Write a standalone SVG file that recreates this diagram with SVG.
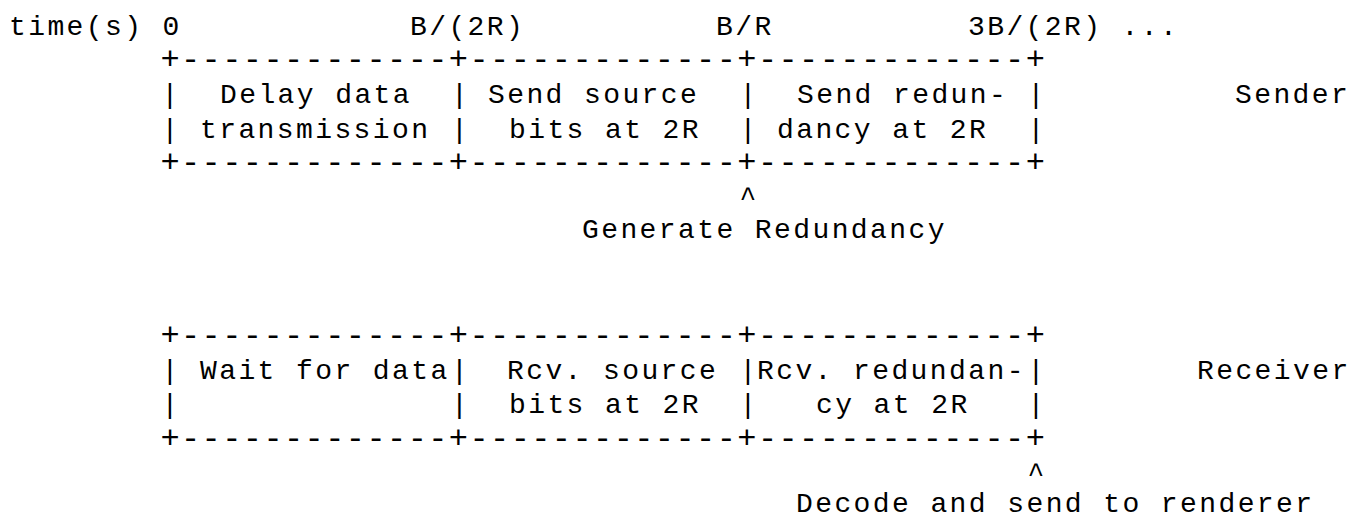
<svg xmlns="http://www.w3.org/2000/svg" width="1353" height="521" viewBox="0 0 1353 521">
<style>
text{font-family:"Liberation Mono","DejaVu Sans Mono",monospace;font-size:28px;letter-spacing:2.4px;fill:#000;white-space:pre}
.b{font-size:32px;letter-spacing:1.4px}
</style>
<rect width="1353" height="521" fill="#fff"/>
<g id="time-axis">
<text x="9" y="35">time(s) 0</text>
<text x="410" y="35">B/(2R)</text>
<text x="716" y="35">B/R</text>
<text x="968" y="35">3B/(2R) ...</text>
</g>
<g id="sender">
<text class="b" x="160.4" y="69">+-------------+-------------+-------------+</text>
<text x="161.6" y="103">|</text><text x="451.1" y="103">|</text><text x="739.6" y="103">|</text><text x="1027.6" y="103">|</text>
<text x="161.6" y="138">|</text><text x="451.1" y="138">|</text><text x="739.6" y="138">|</text><text x="1027.6" y="138">|</text>
<text class="b" x="160.4" y="172">+-------------+-------------+-------------+</text>
<text x="220" y="103">Delay data</text>
<text x="200" y="138">transmission</text>
<text x="488" y="103">Send source</text>
<text x="509" y="138">bits at 2R</text>
<text x="797" y="103">Send redun-</text>
<text x="777" y="138">dancy at 2R</text>
<text x="1235" y="103">Sender</text>
</g>
<g id="generate">
<text x="582" y="238">Generate Redundancy</text>
</g>
<g id="receiver">
<text class="b" x="160.4" y="344.6">+-------------+-------------+-------------+</text>
<text x="161.6" y="379">|</text><text x="451.1" y="379">|</text><text x="739.6" y="379">|</text><text x="1027.6" y="379">|</text>
<text x="161.6" y="413">|</text><text x="451.1" y="413">|</text><text x="739.6" y="413">|</text><text x="1027.6" y="413">|</text>
<text class="b" x="160.4" y="448">+-------------+-------------+-------------+</text>
<text x="200" y="379">Wait for data</text>
<text x="507" y="379">Rcv. source</text>
<text x="509" y="413">bits at 2R</text>
<text x="757" y="379">Rcv. redundan-</text>
<text x="816" y="413">cy at 2R</text>
<text x="1197" y="379">Receiver</text>
</g>
<g id="decode">
<text x="796" y="512">Decode and send to renderer</text>
</g>
<g id="connectors">
<text x="739.6" y="206">^</text>
<text x="1027.6" y="482">^</text>
</g>
</svg>
